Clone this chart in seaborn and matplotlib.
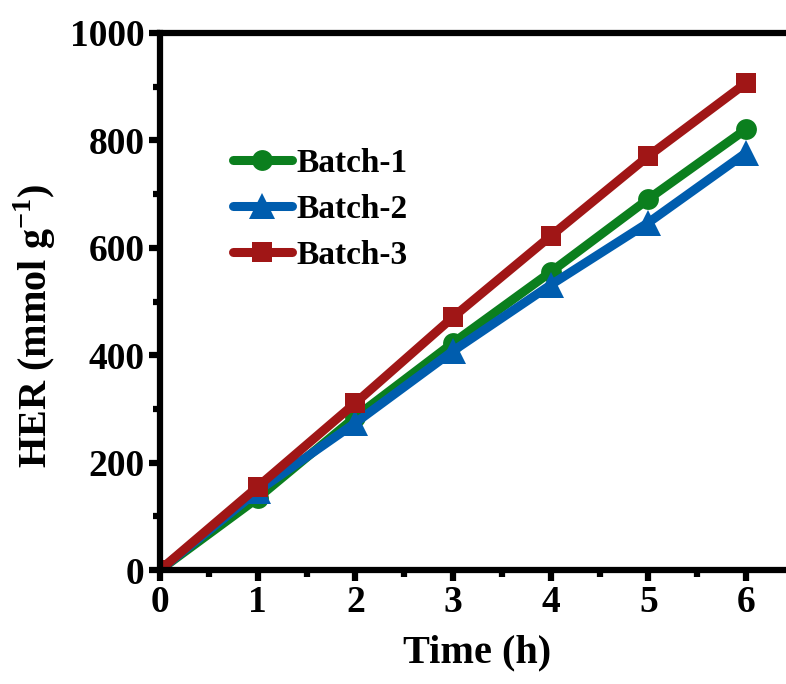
import matplotlib
matplotlib.use("Agg")
import matplotlib.pyplot as plt
import seaborn as sns
import pandas as pd
from matplotlib.ticker import MultipleLocator

time_h = [0, 1, 2, 3, 4, 5, 6]
batch1 = [0, 134, 285, 423, 555, 691, 821]
batch2 = [0, 147, 274, 408, 531, 647, 777]
batch3 = [0, 155, 311, 471, 622, 771, 907]
series_names = ["Batch-1", "Batch-2", "Batch-3"]

sns.set_theme(style="white")
plt.rcParams['font.family'] = ['Liberation Serif', 'DejaVu Serif']
plt.rcParams['font.weight'] = 'bold'
plt.rcParams['text.color'] = 'black'
plt.rcParams['axes.labelcolor'] = 'black'
plt.rcParams['xtick.color'] = 'black'
plt.rcParams['ytick.color'] = 'black'
plt.rcParams['mathtext.fontset'] = 'custom'
plt.rcParams['mathtext.rm'] = 'Liberation Serif:bold'
plt.rcParams['mathtext.bf'] = 'Liberation Serif:bold'

rows = []
for name, vals in zip(series_names, [batch1, batch2, batch3]):
    for t, v in zip(time_h, vals):
        rows.append({"Time": t, "HER": v, "Batch": name})
df = pd.DataFrame(rows)

colors = {"Batch-1": "#0B7F1E", "Batch-2": "#005DAE", "Batch-3": "#A01616"}
markers = {"Batch-1": "o", "Batch-2": "^", "Batch-3": "s"}

fig = plt.figure(figsize=(7.86, 6.84), dpi=100)
ax = fig.add_axes([160/786, 114/684, 635/786, 537/684])

sns.lineplot(data=df, x="Time", y="HER", hue="Batch", style="Batch",
             palette=colors, markers=markers, dashes=False, ax=ax,
             linewidth=6.5, markersize=15, markeredgewidth=0, legend=True)
for ln in ax.lines:
    if ln.get_marker() == "^":
        ln.set_markersize(19)

ax.set_xlim(0, 6.5)
ax.set_ylim(0, 1000)
ax.xaxis.set_major_locator(MultipleLocator(1))
ax.xaxis.set_minor_locator(MultipleLocator(0.5))
ax.yaxis.set_major_locator(MultipleLocator(200))
ax.yaxis.set_minor_locator(MultipleLocator(100))

for side in ["left", "bottom", "top"]:
    ax.spines[side].set_linewidth(4.5)
    ax.spines[side].set_color("black")
ax.spines["right"].set_visible(False)

ax.tick_params(axis="both", which="major", direction="out", length=8, width=4.5,
               labelsize=27, pad=3, color="black", labelcolor="black", bottom=True, left=True)
ax.tick_params(axis="both", which="minor", direction="out", length=5, width=4.5,
               color="black", bottom=True, left=True)
for lab in ax.get_xticklabels() + ax.get_yticklabels():
    lab.set_fontweight("bold")

ax.set_xlabel("Time (h)", fontsize=29, fontweight="bold", labelpad=10, color="black")
ax.set_ylabel(r"HER (mmol g$^{\mathrm{-1}}$)", fontsize=29, fontweight="bold",
              color="black")
ax.yaxis.set_label_coords(-0.16, 0.455)

handles, labels = ax.get_legend_handles_labels()
for h in handles:
    if h.get_marker() == "^":
        h.set_markersize(19)
leg = ax.legend(handles, labels, loc="upper left", bbox_to_anchor=(0.068, 0.842),
                frameon=False, handlelength=1.75, handletextpad=0.15,
                labelspacing=0.45, prop={"weight": "bold", "size": 24})
for t in leg.get_texts():
    t.set_color("black")

fig.savefig("out.png", dpi=100)
